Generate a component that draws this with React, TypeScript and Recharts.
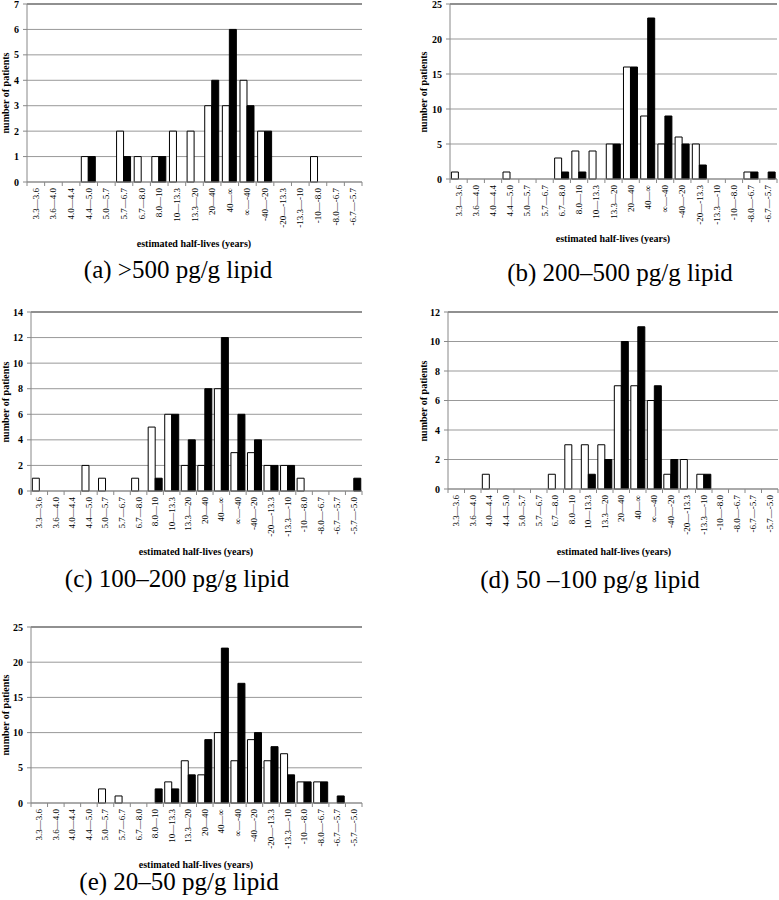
import { BarChart, Bar, XAxis, YAxis, CartesianGrid, ReferenceLine } from "recharts";

const catsShort = [
  "3.3—3.6", "3.6—4.0", "4.0—4.4", "4.4—5.0", "5.0—5.7", "5.7—6.7", "6.7—8.0",
  "8.0—10", "10—13.3", "13.3—20", "20—40", "40—∞", "∞—-40", "-40—-20",
  "-20—-13.3", "-13.3—-10", "-10—-8.0", "-8.0—-6.7", "-6.7—-5.7",
];
const catsLong = [...catsShort, "-5.7—-5.0"];

const whiteA = [0, 0, 0, 1, 0, 2, 1, 1, 2, 2, 3, 3, 4, 2, 0, 0, 1, 0, 0];
const blackA = [0, 0, 0, 1, 0, 1, 0, 1, 0, 0, 4, 6, 3, 2, 0, 0, 0, 0, 0];
const whiteB = [1, 0, 0, 1, 0, 0, 3, 4, 4, 5, 16, 9, 5, 6, 5, 0, 0, 1, 0];
const blackB = [0, 0, 0, 0, 0, 0, 1, 1, 0, 5, 16, 23, 9, 5, 2, 0, 0, 1, 1];
const whiteC = [1, 0, 0, 2, 1, 0, 1, 5, 6, 2, 2, 8, 3, 3, 2, 2, 1, 0, 0, 0];
const blackC = [0, 0, 0, 0, 0, 0, 0, 1, 6, 4, 8, 12, 6, 4, 2, 2, 0, 0, 0, 1];
const whiteD = [0, 0, 1, 0, 0, 0, 1, 3, 3, 3, 7, 7, 6, 1, 2, 1, 0, 0, 0, 0];
const blackD = [0, 0, 0, 0, 0, 0, 0, 0, 1, 2, 10, 11, 7, 2, 0, 1, 0, 0, 0, 0];
const whiteE = [0, 0, 0, 0, 2, 1, 0, 0, 3, 6, 4, 10, 6, 9, 6, 7, 3, 3, 0, 0];
const blackE = [0, 0, 0, 0, 0, 0, 0, 2, 2, 4, 9, 22, 17, 10, 8, 4, 3, 3, 1, 0];

const ticksA = [0, 1, 2, 3, 4, 5, 6, 7];
const ticks25 = [0, 5, 10, 15, 20, 25];
const ticksC = [0, 2, 4, 6, 8, 10, 12, 14];
const ticksD = [0, 2, 4, 6, 8, 10, 12];

const FONT = "'Liberation Serif', 'Times New Roman', serif";
const YW = 26;

interface PanelProps {
  cats: string[];
  white: number[];
  black: number[];
  ticks: number[];
  left: number;
  top: number;
  right: number;
  bottom: number;
  yLabelX: number;
  titleX: number;
  titleY: number;
  caption: string;
  captionX: number;
  captionY: number;
}

function Panel(p: PanelProps) {
  const data = p.cats.map((c, i) => ({ cat: c, white: p.white[i], black: p.black[i] }));
  const max = p.ticks[p.ticks.length - 1];
  const plotW = p.right - p.left;
  const plotH = p.bottom - p.top;
  const band = plotW / p.cats.length;
  const n = p.cats.length;

  const renderTick = (props: any) => {
    const { x, y, payload, index } = props;
    return (
      <g>
        <line x1={x - band / 2} x2={x - band / 2} y1={y} y2={y + 4} stroke="#888" />
        {index === n - 1 && (
          <line x1={x + band / 2} x2={x + band / 2} y1={y} y2={y + 4} stroke="#888" />
        )}
        <text
          x={x}
          y={y + 6}
          transform={`rotate(-90, ${x}, ${y + 6})`}
          textAnchor="end"
          dominantBaseline="central"
          fontSize={9}
          fontFamily={FONT}
          fill="#000"
        >
          {payload.value}
        </text>
      </g>
    );
  };

  return (
    <>
      <div style={{ position: "absolute", left: p.left - YW, top: p.top - 6 }}>
        <BarChart
          width={YW + plotW + 1}
          height={6 + plotH + 60}
          data={data}
          margin={{ top: 6, right: 1, left: 0, bottom: 0 }}
          barCategoryGap="8%"
          barGap={0}
        >
          <CartesianGrid vertical={false} stroke="#999" />
          <XAxis
            dataKey="cat"
            interval={0}
            height={60}
            tick={renderTick}
            tickLine={false}
            tickSize={0}
            tickMargin={0}
            axisLine={{ stroke: "#888" }}
          />
          <YAxis
            width={YW}
            domain={[0, max]}
            ticks={p.ticks}
            interval={0}
            tickSize={4}
            tickMargin={4}
            tickLine={{ stroke: "#888" }}
            axisLine={{ stroke: "#888" }}
            tick={{ fontSize: 10, fontWeight: "bold", fontFamily: FONT, fill: "#000" }}
          />
          <YAxis
            yAxisId="right"
            orientation="right"
            width={0}
            domain={[0, max]}
            tick={false}
            tickLine={false}
            axisLine={{ stroke: "#666" }}
          />
          <ReferenceLine y={max} stroke="#555" />
          <Bar dataKey="white" fill="#fff" stroke="#000" strokeWidth={1} isAnimationActive={false} />
          <Bar dataKey="black" fill="#000" stroke="#000" strokeWidth={1} isAnimationActive={false} />
        </BarChart>
      </div>
      <div
        style={{
          position: "absolute",
          left: p.yLabelX,
          top: p.top + plotH / 2,
          transform: "translate(-50%, -50%) rotate(-90deg)",
          whiteSpace: "nowrap",
          fontSize: 10,
          fontWeight: "bold",
          fontFamily: FONT,
        }}
      >
        number of patients
      </div>
      <div
        style={{
          position: "absolute",
          left: p.titleX,
          top: p.titleY,
          transform: "translate(-50%, -50%)",
          whiteSpace: "nowrap",
          fontSize: 10,
          fontWeight: "bold",
          fontFamily: FONT,
        }}
      >
        estimated half-lives (years)
      </div>
      <div
        style={{
          position: "absolute",
          left: p.captionX,
          top: p.captionY,
          transform: "translate(-50%, -50%)",
          whiteSpace: "nowrap",
          fontSize: 25,
          fontFamily: FONT,
        }}
      >
        {p.caption}
      </div>
    </>
  );
}

export default function App() {
  return (
    <div
      style={{
        position: "absolute",
        left: 0,
        top: 0,
        width: 779,
        height: 900,
        background: "#fff",
        overflow: "hidden",
        fontFamily: FONT,
      }}
    >
      <Panel
        cats={catsShort} white={whiteA} black={blackA} ticks={ticksA}
        left={27} top={4} right={362} bottom={182}
        yLabelX={5} titleX={194} titleY={243}
        caption="(a) >500 pg/g lipid" captionX={178} captionY={270}
      />
      <Panel
        cats={catsShort} white={whiteB} black={blackB} ticks={ticks25}
        left={450} top={4} right={777} bottom={179}
        yLabelX={423} titleX={613} titleY={238}
        caption="(b) 200–500 pg/g lipid" captionX={620} captionY={273}
      />
      <Panel
        cats={catsLong} white={whiteC} black={blackC} ticks={ticksC}
        left={31} top={312} right={362} bottom={491}
        yLabelX={5} titleX={196} titleY={551}
        caption="(c) 100–200 pg/g lipid" captionX={177} captionY={579}
      />
      <Panel
        cats={catsLong} white={whiteD} black={blackD} ticks={ticksD}
        left={448} top={312} right={778} bottom={489}
        yLabelX={423} titleX={614} titleY={551}
        caption="(d) 50 –100 pg/g lipid" captionX={590} captionY={580}
      />
      <Panel
        cats={catsLong} white={whiteE} black={blackE} ticks={ticks25}
        left={31} top={627} right={362} bottom={803}
        yLabelX={5} titleX={196} titleY={864}
        caption="(e) 20–50 pg/g lipid" captionX={179} captionY={882}
      />
    </div>
  );
}
